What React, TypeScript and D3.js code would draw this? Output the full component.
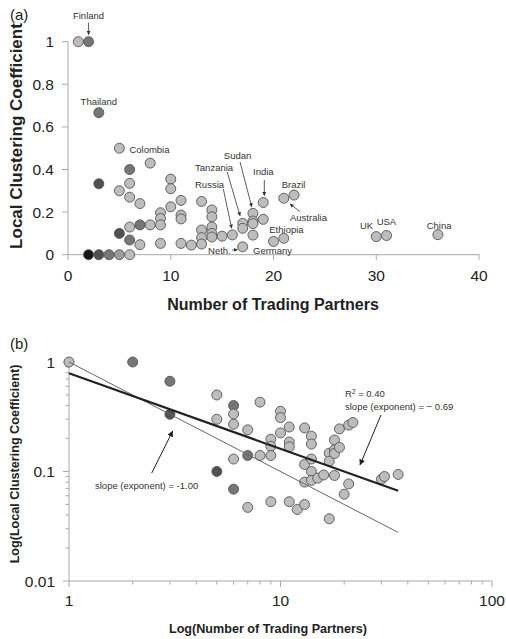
import React from 'react';
import * as d3 from 'd3';

// ---------- data ----------
const partners = [1, 2, 3, 3, 5, 8, 6, 6, 5, 6, 7, 10, 10, 10, 11, 11, 11, 9, 9, 9, 6, 7, 8, 5, 6, 7, 9, 11, 12,
  13, 13, 13, 13, 14, 14, 14, 14, 14, 15, 16, 17, 17, 17, 18, 18, 18, 18, 19, 19, 20, 21, 21, 22, 30, 31, 36,
  2, 3, 4, 5, 6];
const clustering = [1, 1, 0.667, 0.333, 0.5, 0.43, 0.4, 0.335, 0.3, 0.27, 0.24, 0.355, 0.31, 0.225, 0.255, 0.186, 0.168,
  0.197, 0.17, 0.14, 0.13, 0.14, 0.14, 0.1, 0.069, 0.047, 0.053, 0.053, 0.045,
  0.25, 0.116, 0.08, 0.05, 0.21, 0.178, 0.13, 0.1, 0.083, 0.087, 0.093, 0.147, 0.124, 0.037, 0.194, 0.158, 0.146, 0.092,
  0.245, 0.166, 0.062, 0.265, 0.077, 0.28, 0.085, 0.09, 0.094,
  0, 0, 0, 0, 0];
// darkness group of each country point (0 = light ... 4 = black)
const shade = [0, 2, 2, 3, 0, 0, 2, 0, 0, 0, 0, 0, 0, 0, 0, 0, 0, 0, 0, 0, 0, 2, 0, 3, 2, 0, 0, 0, 0,
  0, 0, 0, 0, 0, 0, 0, 0, 0, 0, 0, 0, 0, 0, 0, 0, 0, 0, 0, 0, 0, 0, 0, 0, 0, 0, 0,
  4, 3, 2, 1, 0];

const countryNames = ['Finland', 'Thailand', 'Colombia', 'Sudan', 'Tanzania', 'India', 'Russia', 'Brazil',
  'Australia', 'Ethiopia', 'UK', 'USA', 'China', 'Neth.', 'Germany'];
const countryPartners = [2, 3, 5, 18, 17, 19, 16, 22, 21, 21, 30, 31, 36, 17, 20];
const countryClustering = [1, 0.667, 0.5, 0.194, 0.147, 0.245, 0.093, 0.28, 0.265, 0.077, 0.085, 0.09, 0.094, 0.037, 0.062];

const xTicksA = [0, 10, 20, 30, 40];
const yTicksA = [0, 0.2, 0.4, 0.6, 0.8, 1];
const yTickLabelsA = ['0', '0.2', '0.4', '0.6', '0.8', '1'];
const xTicksB = [1, 10, 100];
const yTicksB = [0.01, 0.1, 1];
const yTickLabelsB = ['0.01', '0.1', '1'];

const fitIntercept = 0.79;
const fitSlope = -0.69;
const refIntercept = 1;
const refSlope = -1.0;
const fitRange = [1, 36];

// ---------- layout / style ----------
const FONT = "'Liberation Sans', Arial, Helvetica, sans-serif";
const shadeColor = d3.scaleOrdinal<number, string>().domain([0, 1, 2, 3, 4])
  .range(['#bdbdbd', '#9c9c9c', '#767676', '#505050', '#161616']);
const AXIS = '#a8a8a8';
const TXT = '#222';

const xA = d3.scaleLinear().domain([0, 40]).range([68, 479]);
const yA = d3.scaleLinear().domain([0, 1]).range([254.7, 41.7]);
const xB = d3.scaleLog().domain([1, 100]).range([69, 492]);
const yB = d3.scaleLog().domain([0.01, 1]).range([581, 362]);

// label placement relative to the labelled point (pixels)
type LabelLayout = { anchor: string; dx: number; dy: number; arrow?: [number, number, number, number] };
const labelLayout: LabelLayout[] = [
  { anchor: 'middle', dx: 0, dy: -23, arrow: [0, -19, 0, -7] },
  { anchor: 'middle', dx: 0, dy: -8 },
  { anchor: 'start', dx: 10, dy: 5 },
  { anchor: 'middle', dx: -15.4, dy: -54.4, arrow: [-12.9, -51.4, -1.2, -6.5] },
  { anchor: 'start', dx: -47.6, dy: -52.8, arrow: [-15.5, -51.5, -2.6, -7.5] },
  { anchor: 'start', dx: -10.2, dy: -27.5, arrow: [1.1, -22.5, 1.1, -6.8] },
  { anchor: 'start', dx: -37.4, dy: -46.9, arrow: [-9.1, -45.9, -0.7, -6.6] },
  { anchor: 'start', dx: -12.4, dy: -7.1 },
  { anchor: 'start', dx: 6.2, dy: 22.7, arrow: [16.2, 13.4, 6.2, 5.7] },
  { anchor: 'start', dx: -14.5, dy: -5.3 },
  { anchor: 'start', dx: -16.3, dy: -7.6 },
  { anchor: 'start', dx: -9.9, dy: -11 },
  { anchor: 'start', dx: -11.2, dy: -5.2 },
  { anchor: 'end', dx: -11.9, dy: 7.2, arrow: [-10.5, 3.2, -5.2, 3.0] },
  { anchor: 'start', dx: -20.5, dy: 12.5 },
];

function minorLogTicks(lo: number, hi: number): number[] {
  const out: number[] = [];
  for (let dec = lo; dec < hi; dec *= 10) {
    for (let m = 2; m <= 9; m++) out.push(dec * m);
  }
  return out;
}

export default function App() {
  const idx = d3.range(partners.length);
  const idxB = idx.filter((i) => clustering[i] > 0);
  const fitLine = d3.line<number>().x((k) => xB(k)).y((k) => yB(fitIntercept * Math.pow(k, fitSlope)));
  const refLine = d3.line<number>().x((k) => xB(k)).y((k) => yB(refIntercept * Math.pow(k, refSlope)));
  const minorX = minorLogTicks(1, 100);
  const minorY = minorLogTicks(0.01, 1);

  return (
    <svg width={506} height={639} style={{ position: 'absolute', left: 0, top: 0, background: '#fff' }}
      fontFamily={FONT}>
      <defs>
        <marker id="ah" viewBox="0 0 8 8" refX={7.5} refY={4} markerWidth={5} markerHeight={5}
          orient="auto" markerUnits="strokeWidth">
          <path d="M0,0L8,4L0,8z" fill="#333" />
        </marker>
        <marker id="ah2" viewBox="0 0 8 8" refX={7.5} refY={4} markerWidth={6} markerHeight={6}
          orient="auto" markerUnits="strokeWidth">
          <path d="M0,0L8,4L0,8z" fill="#222" />
        </marker>
      </defs>
      <rect width={506} height={639} fill="#fff" />

      {/* ================= panel (a) ================= */}
      <text x={10} y={20} fontSize={15} fill={TXT}>(a)</text>
      <line x1={xA(0)} x2={xA(40)} y1={yA(0)} y2={yA(0)} stroke={AXIS} strokeWidth={1} />
      <line x1={xA(0)} x2={xA(0)} y1={yA(0)} y2={yA(1)} stroke={AXIS} strokeWidth={1} />
      {yTicksA.map((t, i) => (
        <g key={'ya' + i}>
          <line x1={xA(0) - 6} x2={xA(0)} y1={yA(t)} y2={yA(t)} stroke={AXIS} />
          <text x={xA(0) - 14} y={yA(t)} dy="0.36em" textAnchor="end" fontSize={15.5} fill={TXT}>
            {yTickLabelsA[i]}
          </text>
        </g>
      ))}
      {xTicksA.map((t, i) => (
        <g key={'xa' + i}>
          <line x1={xA(t)} x2={xA(t)} y1={yA(0)} y2={yA(0) + 5} stroke={AXIS} />
          <text x={xA(t)} y={yA(0) + 26} textAnchor="middle" fontSize={15.5} fill={TXT}>{t}</text>
        </g>
      ))}
      <text x={273} y={310} textAnchor="middle" fontSize={16} fontWeight="bold" fill={TXT}>
        Number of Trading Partners
      </text>
      <text transform="translate(22,136) rotate(-90)" textAnchor="middle" fontSize={17} fontWeight="bold" fill={TXT}>
        Local Clustering Coefficient
      </text>

      {idx.map((i) => (
        <circle key={'pa' + i} cx={xA(partners[i])} cy={yA(clustering[i])} r={5}
          fill={shadeColor(shade[i])} stroke="#555" strokeWidth={0.9} />
      ))}

      {countryNames.map((name, i) => {
        const px = xA(countryPartners[i]);
        const py = yA(countryClustering[i]);
        const L = labelLayout[i];
        return (
          <g key={'lab' + i}>
            <text x={px + L.dx} y={py + L.dy} textAnchor={L.anchor} fontSize={9.5} fill="#333">{name}</text>
            {L.arrow && (
              <line x1={px + L.arrow[0]} y1={py + L.arrow[1]} x2={px + L.arrow[2]} y2={py + L.arrow[3]}
                stroke="#333" strokeWidth={0.8} markerEnd="url(#ah)" />
            )}
          </g>
        );
      })}

      {/* ================= panel (b) ================= */}
      <text x={10} y={349} fontSize={15} fill={TXT}>(b)</text>
      <line x1={xB(1)} x2={xB(100)} y1={yB(0.01)} y2={yB(0.01)} stroke={AXIS} />
      <line x1={xB(1)} x2={xB(1)} y1={yB(0.01)} y2={yB(1)} stroke={AXIS} />
      {minorX.map((t, i) => (
        <line key={'mx' + i} x1={xB(t)} x2={xB(t)} y1={yB(0.01)} y2={yB(0.01) + 3.5} stroke={AXIS} />
      ))}
      {minorY.map((t, i) => (
        <line key={'my' + i} x1={xB(1) - 3.5} x2={xB(1)} y1={yB(t)} y2={yB(t)} stroke={AXIS} />
      ))}
      {xTicksB.map((t, i) => (
        <g key={'xb' + i}>
          <line x1={xB(t)} x2={xB(t)} y1={yB(0.01)} y2={yB(0.01) + 6} stroke={AXIS} />
          <text x={xB(t)} y={yB(0.01) + 25} textAnchor="middle" fontSize={15.5} fill={TXT}>{t}</text>
        </g>
      ))}
      {yTicksB.map((t, i) => (
        <g key={'yb' + i}>
          <line x1={xB(1) - 6} x2={xB(1)} y1={yB(t)} y2={yB(t)} stroke={AXIS} />
          <text x={xB(1) - 14} y={yB(t)} dy="0.36em" textAnchor="end" fontSize={15.5} fill={TXT}>
            {yTickLabelsB[i]}
          </text>
        </g>
      ))}
      <text x={268} y={633} textAnchor="middle" fontSize={12.6} fontWeight="bold" fill={TXT}>
        Log(Number of Trading Partners)
      </text>
      <text transform="translate(19,464) rotate(-90)" textAnchor="middle" fontSize={12.6} fontWeight="bold" fill={TXT}>
        Log(Local Clustering Coefficient)
      </text>

      {idxB.map((i) => (
        <circle key={'pb' + i} cx={xB(partners[i])} cy={yB(clustering[i])} r={5}
          fill={shadeColor(shade[i])} stroke="#555" strokeWidth={0.9} />
      ))}

      <path d={refLine(fitRange) || ''} fill="none" stroke="#666" strokeWidth={1} />
      <path d={fitLine(fitRange) || ''} fill="none" stroke="#222" strokeWidth={2.2} />

      <text x={345} y={397} fontSize={9.5} fill="#333">
        R<tspan dy={-3.5} fontSize={6.5}>2</tspan><tspan dy={3.5}> = 0.40</tspan>
      </text>
      <text x={345} y={410} fontSize={9.5} fill="#333">slope (exponent) = − 0.69</text>
      <line x1={381} y1={415} x2={360} y2={465} stroke="#222" strokeWidth={1} markerEnd="url(#ah2)" />

      <text x={95} y={489} fontSize={9.5} fill="#333">slope (exponent) = -1.00</text>
      <line x1={151.7} y1={473} x2={172.7} y2={431} stroke="#222" strokeWidth={1} markerEnd="url(#ah2)" />
    </svg>
  );
}
